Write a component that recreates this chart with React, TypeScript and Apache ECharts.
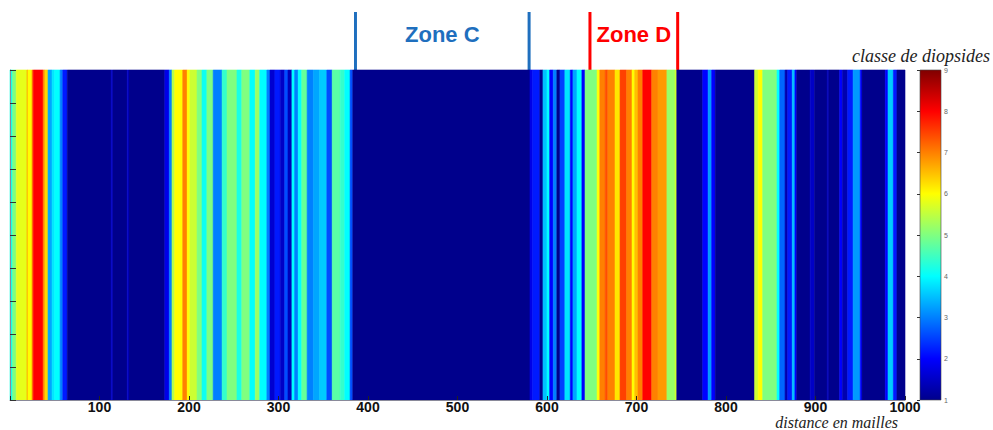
import React, { useEffect, useRef } from 'react';
import * as echarts from 'echarts';

// Stripe segments along the distance axis: each runs from the previous end to its end
const segEnds = [
  3, 7, 19, 20, 24.6, 26, 37, 39, 42.5, 47, 50, 56, 59, 64, 113, 115, 131, 133, 173, 178,
  181, 184, 193, 198, 201, 209, 214.5, 220, 227, 237, 242.5, 253.6, 259, 268, 274, 279, 287, 290.5, 296, 302,
  307, 310.6, 315, 318, 322, 326, 332, 339, 346, 354, 360, 369, 374, 380, 383, 581, 584, 592, 595.5, 600,
  603, 607, 611, 614.5, 620, 626, 629, 633.5, 639, 642.5, 656, 659, 665, 668, 676, 681.6, 689, 695, 698, 701.7,
  707, 717, 724, 734, 743, 745, 774, 780, 784, 788, 832, 836, 841, 857, 860, 866, 869, 874, 877, 879,
  894, 899, 913, 915, 927, 930, 936, 942, 950, 952, 978, 981, 987, 991, 1000,
];
const segClasses = [
  4.2, 5.0, 5.8, 6.8, 6.0, 7.0, 8.0, 7.0, 6.3, 3.3, 3.8, 4.0, 3.0, 2.2, 1, 1.5, 1, 1.5, 1, 1.8,
  3.0, 5.4, 6.0, 7.0, 6.0, 5.6, 5.0, 4.1, 5.0, 3.0, 4.4, 5.0, 4.2, 5.0, 4.0, 5.2, 4.0, 3.0, 1.6, 2.2,
  1.5, 2.6, 1.4, 4.0, 3.0, 4.0, 4.8, 3.0, 3.3, 3.6, 2.6, 4.7, 4.4, 4.0, 2.6, 1, 1.8, 2.2, 1, 3.5,
  4.0, 2.0, 3.0, 1, 2.5, 3.8, 2.0, 3.3, 4.0, 2.0, 5.0, 6.0, 7.0, 7.4, 7.0, 6.2, 7.5, 7.0, 6.0, 6.5,
  7.0, 8.0, 7.0, 6.8, 5.2, 5.6, 1, 2.0, 3.2, 2.0, 1, 5.6, 6.0, 5.0, 4.0, 2.8, 1.3, 2.2, 3.5, 2.0,
  1, 1.5, 1, 1.4, 1, 2.0, 1.3, 2.2, 3.2, 2.0, 1, 2.0, 3.6, 2.2, 1,
];

const xTicks = [0, 100, 200, 300, 400, 500, 600, 700, 800, 900, 1000];
const classTicks = [1, 2, 3, 4, 5, 6, 7, 8, 9];
const jetColors = ['#00008c', '#0000ff', '#0080ff', '#00ffff', '#80ff80', '#ffff00', '#ff8000', '#ff0000', '#800000'];

const zoneLabels = ['Zone C', 'Zone D'];
const zoneStarts = [386, 648];
const zoneEnds = [580, 746];
const zoneColors = ['#1f6fbe', '#ff0000'];

const xTitle = 'distance en mailles';
const cbTitle = 'classe de diopsides';

export default function App() {
  const ref = useRef<HTMLDivElement>(null);
  useEffect(() => {
    const chart = echarts.init(ref.current as HTMLDivElement, null, { renderer: 'svg' });
    const data = segEnds.map((e, i) => [i === 0 ? 0 : segEnds[i - 1], e, segClasses[i]]);
    chart.setOption({
      animation: false,
      backgroundColor: '#ffffff',
      grid: [
        { left: 10, right: 88, top: 70, bottom: 30, show: false },
        { left: 920, width: 21, top: 70, bottom: 30, show: false },
      ],
      xAxis: [
        {
          type: 'value', gridIndex: 0, min: xTicks[0], max: xTicks[xTicks.length - 1], interval: 100, z: 10,
          axisLine: { show: true, lineStyle: { color: '#8a8a9a', width: 1 } },
          axisTick: { show: true, inside: true, length: 4, lineStyle: { color: '#222' } },
          splitLine: { show: false },
          axisLabel: {
            margin: 0, fontSize: 14, lineHeight: 13, fontWeight: 'bold', color: '#111', fontFamily: 'Liberation Sans',
            formatter: (v: number) => (v === 0 ? '' : String(v)),
          },
        },
        { type: 'value', gridIndex: 1, min: 0, max: 1, show: false },
      ],
      yAxis: [
        {
          type: 'value', gridIndex: 0, min: 0, max: 10, interval: 1, z: 10,
          axisLine: { show: true, lineStyle: { color: '#8a8a9a', width: 1 } },
          axisTick: { show: true, inside: true, length: 6, lineStyle: { color: '#333' } },
          axisLabel: { show: false },
          splitLine: { show: false },
        },
        {
          type: 'value', gridIndex: 1, min: classTicks[0], max: classTicks[classTicks.length - 1], interval: 1,
          position: 'right', z: 10,
          axisLine: { show: false },
          axisTick: { show: true, inside: true, length: 3, lineStyle: { color: '#333' } },
          axisLabel: { show: true, fontSize: 7, color: '#666', margin: 3, fontFamily: 'Liberation Sans' },
          splitLine: { show: false },
        },
      ],
      visualMap: {
        type: 'continuous', show: false, min: 1, max: 9, dimension: 2, seriesIndex: 0,
        inRange: { color: jetColors },
      },
      series: [
        {
          type: 'custom',
          xAxisIndex: 0, yAxisIndex: 0,
          dimensions: ['start', 'end', 'classe'],
          encode: { x: [0, 1], y: 2 },
          data,
          renderItem: (params: any, api: any) => {
            const a = api.coord([api.value(0), 10]);
            const b = api.coord([api.value(1), 0]);
            const c = api.visual('color');
            return {
              type: 'rect',
              shape: { x: a[0], y: a[1], width: b[0] - a[0], height: b[1] - a[1] },
              style: { fill: c, stroke: c, lineWidth: 0.6 },
            };
          },
        },
        {
          type: 'custom',
          xAxisIndex: 1, yAxisIndex: 1,
          data: [[0, 1, 9]],
          encode: { x: 0, y: [1, 2] },
          renderItem: (params: any, api: any) => {
            const tl = api.coord([0, 9]);
            const br = api.coord([1, 1]);
            return {
              type: 'rect',
              shape: { x: tl[0], y: tl[1], width: br[0] - tl[0], height: br[1] - tl[1] },
              style: {
                fill: new echarts.graphic.LinearGradient(0, 1, 0, 0,
                  jetColors.map((col, i) => ({ offset: i / (jetColors.length - 1), color: col }))),
                stroke: '#444', lineWidth: 0.6,
              },
            };
          },
        },
      ],
    });

    const gfx: any[] = [];
    zoneLabels.forEach((label, i) => {
      const x0 = chart.convertToPixel({ xAxisIndex: 0 }, zoneStarts[i]) as number;
      const x1 = chart.convertToPixel({ xAxisIndex: 0 }, zoneEnds[i]) as number;
      [x0, x1].forEach((x) => {
        gfx.push({ type: 'line', shape: { x1: x, y1: 12, x2: x, y2: 70 }, style: { stroke: zoneColors[i], lineWidth: 3 } });
      });
      gfx.push({
        type: 'text', x: (x0 + x1) / 2, y: 34,
        style: { text: label, fill: zoneColors[i], font: 'bold 22px "Liberation Sans"', align: 'center', verticalAlign: 'middle' },
      });
    });
    gfx.push({
      type: 'text', x: 990, y: 56,
      style: { text: cbTitle, fill: '#222', font: 'italic 18px "Liberation Serif"', align: 'right', verticalAlign: 'middle' },
    });
    gfx.push({
      type: 'text', x: 898, y: 422,
      style: { text: xTitle, fill: '#222', font: 'italic 16px "Liberation Serif"', align: 'right', verticalAlign: 'middle' },
    });
    chart.setOption({ graphic: gfx });

    return () => chart.dispose();
  }, []);
  return (
    <div
      ref={ref}
      style={{ position: 'fixed', left: 0, top: 0, width: 993, height: 430, background: '#fff' }}
    />
  );
}
